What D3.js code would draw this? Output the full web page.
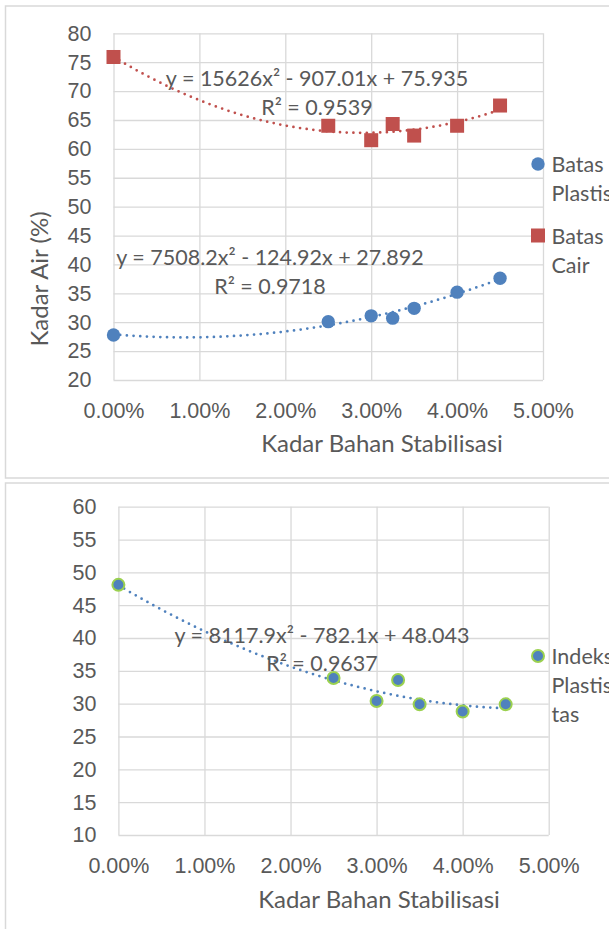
<!DOCTYPE html>
<html>
<head>
<meta charset="utf-8">
<script src="https://cdn.jsdelivr.net/npm/d3@7/dist/d3.min.js"></script>
<style>
  html, body { margin: 0; padding: 0; background: #fff; overflow: hidden; }
  svg { display: block; font-family: Lato, "Open Sans", sans-serif; }
  .tick text { fill: #595959; font-size: 21.5px; }
</style>
</head>
<body>
<div id="chart"></div>
<script>
// data
const kadar = [0, 0.025, 0.03, 0.0325, 0.035, 0.04, 0.045];
const batasPlastis = [27.8, 30.1, 31.1, 30.7, 32.4, 35.2, 37.6];
const batasCair = [75.9, 64.0, 61.5, 64.3, 62.3, 64.0, 67.5];
const indeksPlastisitas = [48.1, 33.9, 30.4, 33.6, 29.9, 28.8, 29.9];

// trendline coefficients (a, b, c) of y = a x^2 + b x + c
const trendPlastis = [7508.2, -124.92, 27.892];
const trendCair = [15626, -907.01, 75.935];
const trendIndeks = [8117.9, -782.1, 48.043];

const xTicks = [0, 0.01, 0.02, 0.03, 0.04, 0.05];
const yTicksTop = [20, 25, 30, 35, 40, 45, 50, 55, 60, 65, 70, 75, 80];
const yTicksBottom = [10, 15, 20, 25, 30, 35, 40, 45, 50, 55, 60];

const eqPlastis = ['y = 7508.2x² - 124.92x + 27.892', 'R² = 0.9718'];
const eqCair = ['y = 15626x² - 907.01x + 75.935', 'R² = 0.9539'];
const eqIndeks = ['y = 8117.9x² - 782.1x + 48.043', 'R² = 0.9637'];

const blue = '#4F81BD', red = '#C0504D', green = '#9BD14F';
const textColor = '#595959', gridColor = '#d9d9d9';

const svg = d3.select('#chart').append('svg')
  .attr('width', 609)
  .attr('height', 929);

// chart frames
svg.append('rect').attr('x', 5.5).attr('y', 6).attr('width', 700).attr('height', 472)
  .attr('fill', 'none').attr('stroke', gridColor).attr('stroke-width', 1.5);
svg.append('rect').attr('x', 5.5).attr('y', 483).attr('width', 700).attr('height', 500)
  .attr('fill', 'none').attr('stroke', gridColor).attr('stroke-width', 1.5);

function drawChart(opts) {
  const p = opts.plot;
  const x = d3.scaleLinear().domain([0, 0.05]).range([p.x0, p.x1]);
  const y = d3.scaleLinear().domain(opts.yDomain).range([p.y1, p.y0]);
  const g = svg.append('g');

  // Y axis with gridlines
  const ya = g.append('g')
    .attr('transform', 'translate(' + p.x0 + ',0)')
    .call(d3.axisLeft(y).tickValues(opts.yTicks).tickSize(-(p.x1 - p.x0)).tickPadding(22));
  ya.select('.domain').remove();
  ya.selectAll('line').attr('stroke', gridColor).attr('stroke-width', 1.3);

  // X axis with gridlines
  const xa = g.append('g')
    .attr('transform', 'translate(0,' + p.y1 + ')')
    .call(d3.axisBottom(x).tickValues(xTicks).tickSize(-(p.y1 - p.y0)).tickPadding(23)
      .tickFormat(d3.format('.2%')));
  xa.select('.domain').remove();
  xa.selectAll('line').attr('stroke', gridColor).attr('stroke-width', 1.3);

  // X axis title
  g.append('text')
    .attr('x', opts.xTitle[0]).attr('y', opts.xTitle[1])
    .attr('text-anchor', 'middle').attr('dominant-baseline', 'central')
    .attr('fill', textColor).style('font-size', '24px')
    .text('Kadar Bahan Stabilisasi');

  if (opts.yTitle) {
    g.append('text')
      .attr('transform', 'translate(' + opts.yTitle[0] + ',' + opts.yTitle[1] + ') rotate(-90)')
      .attr('text-anchor', 'middle').attr('dominant-baseline', 'central')
      .attr('fill', textColor).style('font-size', '24px')
      .text('Kadar Air (%)');
  }

  const line = d3.line().x(d => x(d[0])).y(d => y(d[1]));

  opts.series.forEach(s => {
    const c = s.trend;
    const pts = d3.range(0, 0.04501, 0.0005).map(v => [v, c[0] * v * v + c[1] * v + c[2]]);
    g.append('path')
      .attr('d', line(pts))
      .attr('fill', 'none')
      .attr('stroke', s.color)
      .attr('stroke-width', 2.75)
      .attr('stroke-linecap', 'round')
      .attr('stroke-dasharray', '0 6.7');
  });

  opts.series.forEach(s => {
    const data = kadar.map((k, i) => [k, s.values[i]]);
    if (s.shape === 'square') {
      g.selectAll(null).data(data).enter().append('rect')
        .attr('x', d => x(d[0]) - 7).attr('y', d => y(d[1]) - 7)
        .attr('width', 14).attr('height', 14)
        .attr('fill', s.color);
    } else {
      g.selectAll(null).data(data).enter().append('circle')
        .attr('cx', d => x(d[0])).attr('cy', d => y(d[1]))
        .attr('r', s.stroke ? 6 : 6.7)
        .attr('fill', s.color)
        .attr('stroke', s.stroke || 'none')
        .attr('stroke-width', 2);
    }

    // equation label
    s.eq.forEach((t, i) => {
      g.append('text')
        .attr('x', s.eqPos[0]).attr('y', s.eqPos[1] + i * 28.5)
        .attr('text-anchor', 'middle').attr('dominant-baseline', 'central')
        .attr('fill', textColor).style('font-size', '21.5px')
        .text(t);
    });

    // legend entry
    const lx = 538, ly = s.legendY;
    if (s.shape === 'square') {
      g.append('rect').attr('x', lx - 7).attr('y', ly - 7).attr('width', 14).attr('height', 14)
        .attr('fill', s.color);
    } else {
      g.append('circle').attr('cx', lx).attr('cy', ly).attr('r', s.stroke ? 6 : 6.7)
        .attr('fill', s.color).attr('stroke', s.stroke || 'none').attr('stroke-width', 2);
    }
    s.name.forEach((t, i) => {
      g.append('text')
        .attr('x', 551.5).attr('y', ly + i * 29)
        .attr('dominant-baseline', 'central')
        .attr('fill', textColor).style('font-size', '21.5px')
        .text(t);
    });
  });
}

drawChart({
  plot: {x0: 113.5, x1: 543, y0: 33.3, y1: 380},
  yDomain: [20, 80],
  yTicks: yTicksTop,
  xTitle: [382, 442],
  yTitle: [38, 279],
  series: [
    {values: batasPlastis, trend: trendPlastis, color: blue, shape: 'circle',
     eq: eqPlastis, eqPos: [270, 257], name: ['Batas', 'Plastis'], legendY: 164},
    {values: batasCair, trend: trendCair, color: red, shape: 'square',
     eq: eqCair, eqPos: [317, 78], name: ['Batas', 'Cair'], legendY: 235.5}
  ]
});

drawChart({
  plot: {x0: 118.4, x1: 548.7, y0: 506.7, y1: 835},
  yDomain: [10, 60],
  yTicks: yTicksBottom,
  xTitle: [379, 898],
  yTitle: null,
  series: [
    {values: indeksPlastisitas, trend: trendIndeks, color: blue, stroke: green, shape: 'circle',
     eq: eqIndeks, eqPos: [322, 634.5], name: ['Indeks', 'Plastisi', 'tas'], legendY: 656}
  ]
});
</script>
</body>
</html>
